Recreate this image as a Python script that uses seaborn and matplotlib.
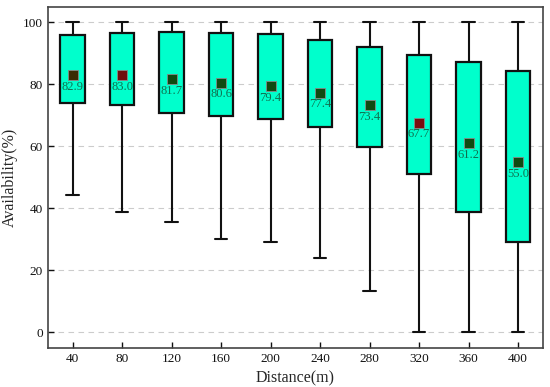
import numpy as np
import pandas as pd
import seaborn as sns
import matplotlib
matplotlib.use("Agg")
import matplotlib.pyplot as plt

# ---- data ----
distances = ["40", "80", "120", "160", "200", "240", "280", "320", "360", "400"]
whisker_low = [44.4, 38.7, 35.6, 30.2, 29.3, 24.1, 13.4, 0.0, 0.0, 0.0]
q1 = [74.0, 73.4, 70.9, 69.9, 68.9, 66.2, 59.8, 51.0, 38.8, 29.3]
q3 = [95.8, 96.7, 96.8, 96.7, 96.2, 94.5, 92.0, 89.6, 87.3, 84.4]
whisker_high = [100, 100, 100, 100, 100, 100, 100, 100, 100, 100]
means = [82.9, 83.0, 81.7, 80.6, 79.4, 77.4, 73.4, 67.7, 61.2, 55.0]
mean_colors = ["#3a2c05", "#6e0c0c", "#0f4a12", "#0f4a12", "#0f4a12",
               "#0f4a12", "#0f4a12", "#7a0f0f", "#0f4a12", "#0f4a12"]

# five-number summaries expanded into small samples (min, q1, mid, q3, max)
rows = []
for d, lo, a, b, hi, m in zip(distances, whisker_low, q1, q3, whisker_high, means):
    for v in (lo, a, m, b, hi):
        rows.append({"Distance": d, "Availability": v})
df = pd.DataFrame(rows)
mean_df = pd.DataFrame({"Distance": distances, "Mean": means})

sns.set_style("white")
plt.rcParams["font.family"] = ["Liberation Serif", "DejaVu Serif"]

fig = plt.figure(figsize=(5.5, 3.87), dpi=100)
ax = fig.add_axes([0.087, 0.101, 0.9, 0.881])

sns.boxplot(data=df, x="Distance", y="Availability", order=distances,
            whis=(0, 100), width=0.5, color="#00ffcc", saturation=1,
            linewidth=1.5, linecolor="#111111",
            boxprops=dict(facecolor="#00ffcc", edgecolor="#111111", linewidth=1.6),
            whiskerprops=dict(color="#111111", linewidth=1.5),
            capprops=dict(color="#111111", linewidth=1.5),
            medianprops=dict(visible=False),
            showfliers=False, ax=ax, zorder=3)

sns.stripplot(data=mean_df, x="Distance", y="Mean", order=distances,
              hue="Distance", palette=dict(zip(distances, mean_colors)),
              hue_order=distances, marker="s", size=6.5, jitter=False,
              linewidth=0.6, edgecolor="#888888", legend=False, ax=ax, zorder=5)

for i, m in enumerate(means):
    ax.annotate(f"{m:.1f}", (i, m), xytext=(0, -8.5), textcoords="offset points",
                ha="center", va="center", fontsize=9, color="#10704f", zorder=6)

ax.set_ylim(-5, 105)
ax.set_xlim(-0.5, 9.5)
ax.set_yticks([0, 20, 40, 60, 80, 100])
ax.yaxis.grid(True, linestyle=(0, (5, 4)), color="#cccccc", linewidth=0.8)
ax.set_axisbelow(True)
ax.tick_params(direction="in", length=4, width=1, labelsize=9.5, colors="#111111",
               bottom=True, left=True, top=False, right=False)
ax.set_xlabel("Distance(m)", fontsize=11.5)
ax.set_ylabel("Availability(%)", fontsize=11.5)
for s in ax.spines.values():
    s.set_color("#444444")
    s.set_linewidth(1.2)

fig.savefig("out.png", dpi=100)
